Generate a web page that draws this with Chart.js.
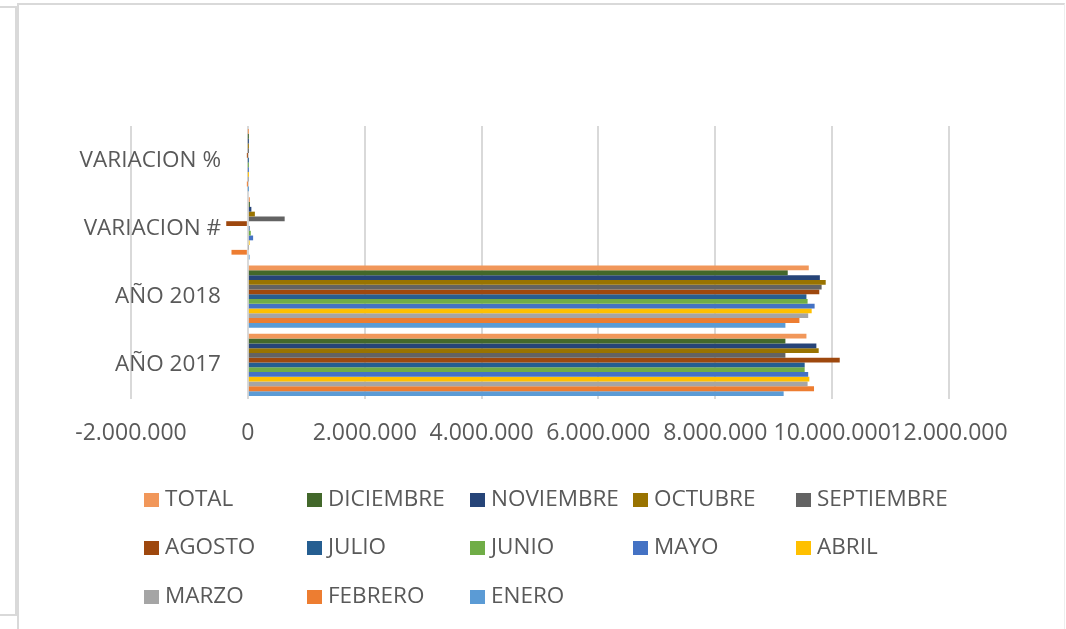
<!DOCTYPE html>
<html>
<head>
<meta charset="utf-8">
<script src="https://cdn.jsdelivr.net/npm/chart.js@4/dist/chart.umd.min.js"></script>
<style>
  html, body { margin: 0; padding: 0; background: #ffffff; }
  body { width: 1066px; height: 629px; position: relative; overflow: hidden; font-family: 'Open Sans', sans-serif; }
  #sidebox { position: absolute; left: -4px; top: 6px; width: 17px; height: 606px; border: 2px solid #d9d9d9; }
  #frame { position: absolute; left: 17px; top: 3px; width: 1045px; height: 700px; border-left: 2px solid #d9d9d9; border-top: 2px solid #d9d9d9; border-right: 1px solid #eeeeee; }
  #c { position: absolute; left: 0; top: 0; }
  .lg { position: absolute; height: 26px; line-height: 26px; font-size: 22.5px; color: #595959; white-space: nowrap; }
  .lg span.sw { display: inline-block; width: 15px; height: 14px; margin-right: 6px; vertical-align: -1px; }
</style>
</head>
<body>
<div id="sidebox"></div>
<div id="frame"></div>
<canvas id="c" width="1066" height="629"></canvas>
<div id="legend"></div>
<script>
// Categories, top to bottom as drawn
const categories = ['VARIACION %', 'VARIACION #', 'AÑO 2018', 'AÑO 2017'];

// Series (legend order)
const seriesNames  = ['TOTAL', 'DICIEMBRE', 'NOVIEMBRE', 'OCTUBRE', 'SEPTIEMBRE', 'AGOSTO', 'JULIO', 'JUNIO', 'MAYO', 'ABRIL', 'MARZO', 'FEBRERO', 'ENERO'];
const seriesColors = ['#F1975A', '#43682B', '#264478', '#997300', '#636363', '#9E480E', '#255E91', '#70AD47', '#4472C4', '#FFC000', '#A5A5A5', '#ED7D31', '#5B9BD5'];

// Values per series (same order as seriesNames)
const anio2017     = [9560000, 9200000, 9730000, 9770000, 9200000, 10130000, 9530000, 9530000, 9590000, 9610000, 9580000, 9690000, 9170000];
const anio2018     = [9600000, 9240000, 9790000, 9890000, 9820000, 9780000, 9560000, 9580000, 9700000, 9650000, 9590000, 9440000, 9200000];
const variacionNum = [35000, 35000, 60000, 120000, 630000, -370000, 30000, 50000, 90000, 30000, 5000, -280000, 30000];
const variacionPct = [0.004, 0.004, 0.006, 0.012, 0.067, -0.035, 0.003, 0.005, 0.01, 0.004, 0.001, -0.026, 0.003];

// Value axis ticks
const tickMin = -2000000;
const tickMax = 12000000;
const tickStep = 2000000;

// Where the category labels end (value-axis position, a layout setting)
const categoryLabelAnchor = -460000;

function fmt(v) {
  const neg = v < 0;
  let s = Math.abs(Math.round(v)).toString();
  s = s.replace(/\B(?=(\d{3})+(?!\d))/g, '.');
  return (neg ? '-' : '') + s;
}

const datasets = seriesNames.map((name, i) => ({
  label: name,
  data: [variacionPct[i], variacionNum[i], anio2018[i], anio2017[i]],
  backgroundColor: seriesColors[i],
  borderWidth: 0,
  categoryPercentage: 0.91,
  barPercentage: 1.0
}));

Chart.defaults.font.family = "'Open Sans', sans-serif";
Chart.defaults.font.size = 22.5;
Chart.defaults.color = '#595959';

new Chart(document.getElementById('c'), {
  type: 'bar',
  data: { labels: categories, datasets: datasets },
  options: {
    indexAxis: 'y',
    responsive: false,
    animation: false,
    devicePixelRatio: 1,
    layout: { padding: { left: 131, top: 126, right: 117, bottom: 180 } },
    plugins: { legend: { display: false }, tooltip: { enabled: false } },
    scales: {
      x: {
        type: 'linear',
        min: tickMin,
        max: tickMax,
        ticks: { stepSize: tickStep, callback: (v) => fmt(v), padding: 21, maxRotation: 0, autoSkip: false, font: { size: 23 } },
        grid: { color: '#d9d9d9', lineWidth: 2, drawTicks: false },
        border: { display: false },
        afterFit: (s) => { s.height = 50; }
      },
      y: {
        type: 'category',
        position: { x: categoryLabelAnchor },
        grid: { display: false, drawTicks: false },
        border: { display: false },
        ticks: { padding: 0, font: { size: 22.5 } }
      }
    }
  }
});

// Legend (HTML, built from the series arrays)
const lg = document.getElementById('legend');
const colX = [144, 307, 470, 633, 796];
const rowY = [498, 546, 595];
seriesNames.forEach((name, i) => {
  const d = document.createElement('div');
  d.className = 'lg';
  d.style.left = colX[i % 5] + 'px';
  d.style.top = (rowY[Math.floor(i / 5)] - 13) + 'px';
  const sw = document.createElement('span');
  sw.className = 'sw';
  sw.style.background = seriesColors[i];
  d.appendChild(sw);
  d.appendChild(document.createTextNode(name));
  lg.appendChild(d);
});
</script>
</body>
</html>
